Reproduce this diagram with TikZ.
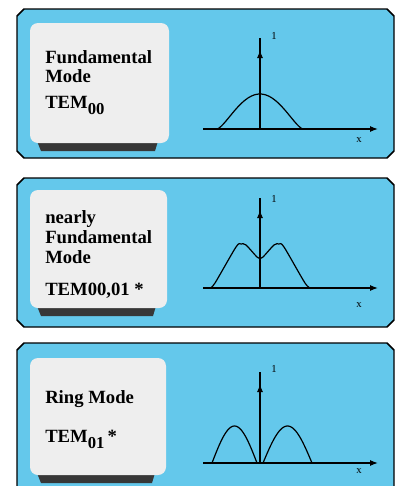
\documentclass[tikz,border=0pt]{standalone}
\usepackage{fontspec}
\setmainfont{Liberation Serif}
\usetikzlibrary{arrows.meta}
\definecolor{panelblue}{RGB}{100,200,235}
\definecolor{cardgray}{RGB}{238,238,238}
\definecolor{shadowgray}{RGB}{55,55,55}
\newcommand{\temsub}[1]{\raisebox{-5pt}{\fontsize{12.5}{12.5}\selectfont#1}}

\begin{document}
\begin{tikzpicture}[x=0.75pt,y=-0.75pt,>={Latex[length=6pt,width=4.5pt]},
  every node/.style={font=\bfseries\fontsize{14}{16}\selectfont,inner sep=0pt,anchor=base west},
  panel/.style={fill=panelblue,draw=black,line width=1.1pt},
  card/.style={fill=cardgray,rounded corners=6},
  cardshadow/.style={fill=shadowgray},
  axis/.style={line width=0.9pt},
  curve/.style={line width=0.9pt,line join=round},
  axislabel/.style={font=\fontsize{8}{9}\selectfont}]
\useasboundingbox (0,0) rectangle (398,486);
\clip (0,0) rectangle (398,486);
% panels and cards
\foreach \ya/\yb in {9/158,178/327,343/500}
  \draw[panel] (17,\ya+7)--(24,\ya)--(387,\ya)--(394,\ya+7)--(394,\yb-7)--(387,\yb)--(24,\yb)--(17,\yb-7)--cycle;
\foreach \ya/\yb/\xb in {23/143/169,190/308/167,358/475/166}{
  \fill[cardshadow] (37,\yb-2)--(\xb-11,\yb-2)--(\xb-14,\yb+8)--(41,\yb+8)--cycle;
  \fill[card] (30,\ya) rectangle (\xb,\yb);}
% texts
\node (fund) at (45,63) {Fundamental};
\node (mode) at (45,82) {Mode};
\node (tem) at (45,108) {TEM\temsub{00}};
\node (nearly) at (45,223) {nearly};
\node (fundb) at (45,243) {Fundamental};
\node (modeb) at (45,263) {Mode};
\node (temb) at (45,295) {TEM00,01 *};
\node (ring) at (45,403) {Ring Mode};
\node (temc) at (45,442) {TEM\temsub{01}\,*};
% axes
\foreach \yo/\yt/\yone/\yx in {129/38/39/142,288/198/202/307,463/372/372/473}{
  \draw[axis] (260,\yo)--(260,\yt);
  \draw[axis,->] (260,\yo)--(260,\yt+12);
  \draw[axis,->] (203,\yo)--(378,\yo);
  \node[axislabel] at (271,\yone) {1};
  \node[axislabel] at (356,\yx) {x};}
% intensity profiles
\draw[curve] plot[domain=-42.8:42.8,samples=61] ({260+\x},{129-35*(1-(\x/43)^2)*sqrt(1-(\x/43)^2)});
\draw[curve] plot[smooth,tension=0.5] coordinates {(210,288) (215,283) (236,247) (241,244) (246,245) (257,257) (260,258) (263,257) (274,245) (279,244) (284,247) (305,283) (311,288)};
\draw[curve] plot[domain=212:257,samples=40] (\x,{463-37*sin(180*(\x-212)/45)});
\draw[curve] plot[domain=263:312,samples=40] (\x,{463-37*sin(180*(\x-263)/49)});
\end{tikzpicture}
\end{document}
